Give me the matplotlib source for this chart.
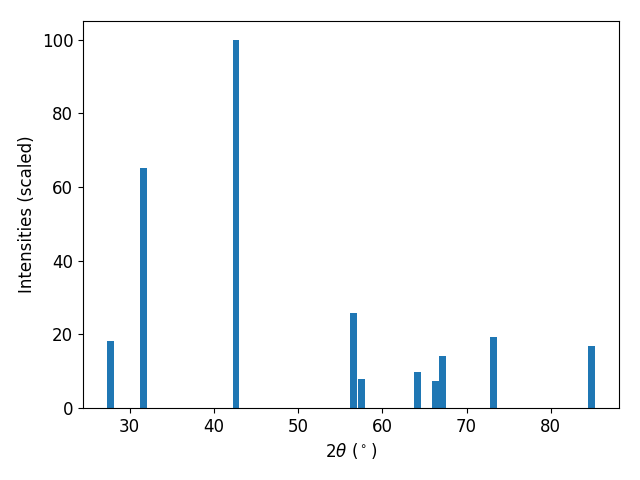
import matplotlib
matplotlib.use("Agg")
import matplotlib.pyplot as plt

# Posições dos picos (2theta) e intensidades relativas
two_theta = [27.76, 31.69, 42.64, 56.57, 57.52, 64.19, 66.33, 67.10, 73.24, 84.79]
intensidades = [18.1, 65.1, 100.0, 25.7, 8.0, 9.9, 7.2, 14.0, 19.4, 16.7]

plt.rcParams['font.size'] = 12

fig, ax = plt.subplots(figsize=(6.4, 4.8), dpi=100)
ax.bar(two_theta, intensidades, width=0.8, color='#1f77b4')

ax.set_xlabel(r"$2\theta$ ($^\circ$)")
ax.set_ylabel("Intensities (scaled)")

fig.subplots_adjust(left=0.1297, right=0.967, top=0.956, bottom=0.15)
fig.savefig("out.png")
plt.close(fig)
